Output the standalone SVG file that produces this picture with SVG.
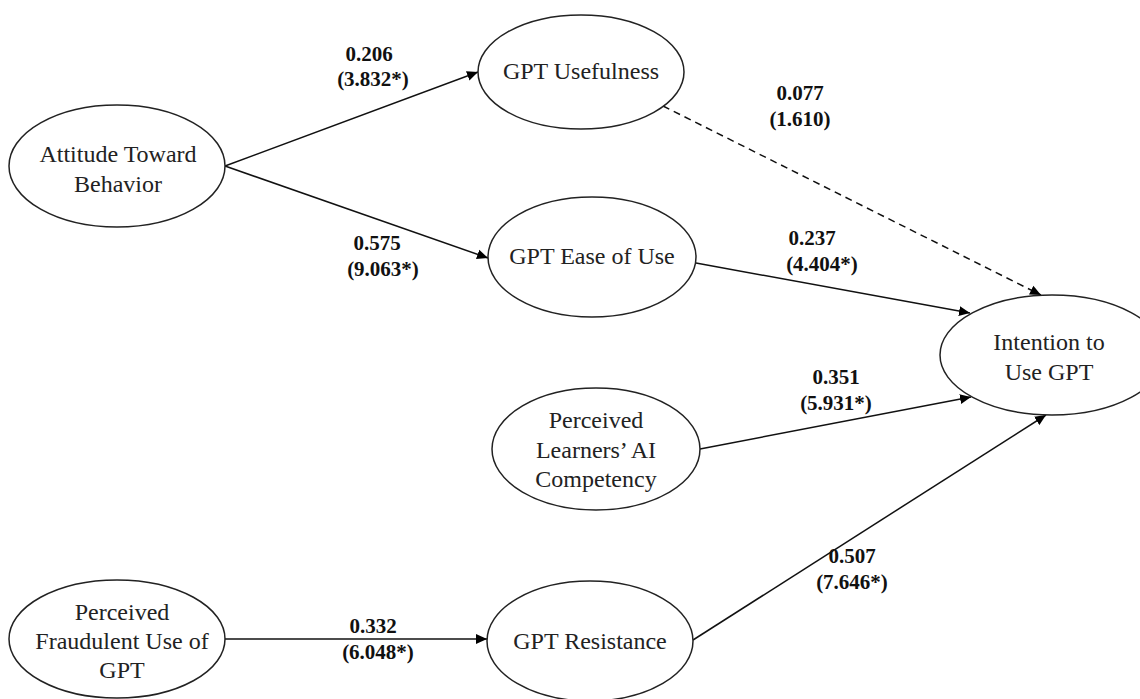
<svg xmlns="http://www.w3.org/2000/svg" width="1140" height="699" viewBox="0 0 1140 699">
<defs>
<marker id="ah" viewBox="0 0 10 10" refX="10" refY="5" markerWidth="11" markerHeight="11" markerUnits="userSpaceOnUse" orient="auto">
<path d="M0,0.5 L10,5 L0,9.5 z" fill="#000"/>
</marker>
<style>
.n ellipse{fill:#fff;stroke:#222;stroke-width:1.5}
.n text{font-family:"Liberation Serif",serif;font-size:24px;fill:#222;text-anchor:middle}
.c line{stroke:#111;stroke-width:1.5;marker-end:url(#ah)}
.c .d{stroke-dasharray:7,5}
.l text{font-family:"Liberation Serif",serif;font-size:21px;font-weight:bold;fill:#111;text-anchor:middle}
</style>
</defs>
<rect width="1140" height="699" fill="#fff"/>
<g class="c" id="connectors">
<line x1="225" y1="166" x2="478" y2="72"/>
<line x1="225" y1="166" x2="488" y2="258"/>
<line class="d" x1="663" y1="106" x2="1041" y2="295"/>
<line x1="696" y1="263" x2="970" y2="313"/>
<line x1="700" y1="449" x2="971" y2="397"/>
<line x1="693" y1="640" x2="1046" y2="415"/>
<line x1="225" y1="639" x2="487" y2="639"/>
</g>
<g class="n" id="atb"><ellipse cx="117" cy="166" rx="108" ry="61"/><text x="118" y="162">Attitude Toward</text><text x="118" y="192">Behavior</text></g>
<g class="n" id="usefulness"><ellipse cx="581" cy="72" rx="103" ry="57"/><text x="581" y="79">GPT Usefulness</text></g>
<g class="n" id="ease"><ellipse cx="592" cy="257" rx="104" ry="60"/><text x="592" y="264">GPT Ease of Use</text></g>
<g class="n" id="intention"><ellipse cx="1052" cy="355" rx="112" ry="60"/><text x="1049" y="350">Intention to</text><text x="1049" y="380">Use GPT</text></g>
<g class="n" id="plai"><ellipse cx="596" cy="449" rx="104" ry="61"/><text x="596" y="428">Perceived</text><text x="596" y="458">Learners’ AI</text><text x="596" y="487">Competency</text></g>
<g class="n" id="pfu"><ellipse cx="117" cy="639" rx="108" ry="59"/><text x="122" y="620">Perceived</text><text x="122" y="649">Fraudulent Use of</text><text x="122" y="678">GPT</text></g>
<g class="n" id="resistance"><ellipse cx="590" cy="641" rx="103" ry="60"/><text x="590" y="649">GPT Resistance</text></g>
<g class="l" id="labels">
<text x="369" y="61">0.206</text><text x="373" y="86">(3.832*)</text>
<text x="800" y="100">0.077</text><text x="800" y="126">(1.610)</text>
<text x="377" y="250">0.575</text><text x="383" y="276">(9.063*)</text>
<text x="812" y="245">0.237</text><text x="822" y="271">(4.404*)</text>
<text x="836" y="384">0.351</text><text x="836" y="410">(5.931*)</text>
<text x="852" y="563">0.507</text><text x="852" y="589">(7.646*)</text>
<text x="373" y="633">0.332</text><text x="378" y="659">(6.048*)</text>
</g>
</svg>
